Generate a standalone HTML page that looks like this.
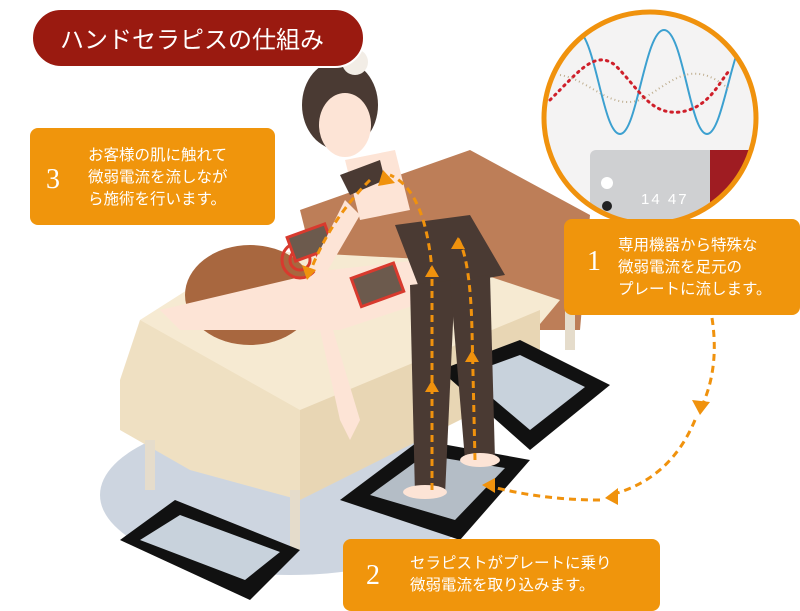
<!DOCTYPE html>
<html><head><meta charset="utf-8"><style>
body{margin:0;width:800px;height:611px;overflow:hidden;background:#fff;font-family:"Liberation Sans","Noto Sans CJK JP",sans-serif}
svg{display:block}
</style></head><body>
<svg width="800" height="611" viewBox="0 0 800 611" xmlns="http://www.w3.org/2000/svg" font-family="Liberation Sans, Noto Sans CJK JP, sans-serif">
<ellipse cx="290" cy="495" rx="190" ry="80" fill="#cdd5e0"/>
<path d="M300 210 L470 150 L590 215 L580 330 L330 330 Z" fill="#bd7e58"/>
<path d="M140 320 L250 250 L440 260 L560 300 L510 360 L300 450 L140 380 Z" fill="#f6ead2"/>
<path d="M120 380 L140 320 L300 410 L300 500 L190 470 L120 430 Z" fill="#efe0c2"/>
<path d="M300 410 L540 310 L540 380 L300 500 Z" fill="#e8d6b4"/>
<rect x="145" y="440" width="10" height="50" fill="#e5dccb"/>
<rect x="290" y="490" width="10" height="60" fill="#e5dccb"/>
<rect x="565" y="310" width="10" height="40" fill="#e5dccb"/>
<path d="M120 540 L175 500 L300 550 L250 600 Z" fill="#111"/>
<path d="M140 540 L180 515 L280 552 L245 580 Z" fill="#c8d2dc"/>
<path d="M340 500 L420 440 L530 460 L460 540 Z" fill="#111"/>
<path d="M370 495 L425 455 L505 468 L455 520 Z" fill="#b4bdc6"/>
<path d="M440 370 L520 340 L610 385 L530 450 Z" fill="#111"/>
<path d="M465 375 L520 355 L585 387 L530 430 Z" fill="#c8d2dc"/>
<ellipse cx="250" cy="295" rx="65" ry="50" fill="#a8673f"/>
<path d="M160 310 L330 270 L420 260 L430 300 L340 330 L180 330 Z" fill="#fde4d6"/>
<circle cx="300" cy="260" r="18" fill="none" stroke="#d83a2e" stroke-width="3"/>
<circle cx="300" cy="260" r="10" fill="none" stroke="#d83a2e" stroke-width="3"/>
<rect x="355" y="270" width="45" height="30" fill="#6c5a4d" stroke="#d83a2e" stroke-width="3" transform="rotate(-20 377 285)"/>
<rect x="290" y="230" width="40" height="25" fill="#6c5a4d" stroke="#d83a2e" stroke-width="3" transform="rotate(-20 310 242)"/>
<path d="M330 320 L360 420 L350 440 L340 420 L320 330 Z" fill="#fde4d6"/>
<ellipse cx="340" cy="105" rx="38" ry="45" fill="#4a3a33"/>
<ellipse cx="345" cy="125" rx="26" ry="32" fill="#fde4d6"/>
<circle cx="355" cy="62" r="13" fill="#f2ede6"/>
<path d="M345 160 L395 150 L410 210 L360 220 Z" fill="#fde4d6"/>
<path d="M340 175 L380 160 L385 180 L350 195 Z" fill="#4a3a33"/>
<path d="M345 200 L310 270 L325 275 L360 215 Z" fill="#fde4d6"/>
<path d="M395 225 L470 215 L505 275 L420 290 Z" fill="#4a3a33"/>
<path d="M410 285 L455 280 L445 495 L415 495 Z" fill="#4a3a33"/>
<path d="M450 280 L490 275 L495 460 L465 460 Z" fill="#4a3a33"/>
<ellipse cx="425" cy="492" rx="22" ry="7" fill="#fde4d6"/>
<ellipse cx="480" cy="460" rx="20" ry="7" fill="#fde4d6"/>
<g fill="none" stroke="#f0920d" stroke-width="3" stroke-dasharray="7 5">
<path d="M432 490 L432 270 Q425 190 390 175"/>
<path d="M475 460 L472 330 Q470 250 455 235"/>
<path d="M370 180 Q330 220 310 272"/>
<path d="M712 318 Q720 370 700 410"/>
<path d="M695 420 Q670 480 610 495"/>
<path d="M600 500 Q540 500 485 485"/>
</g>
<g fill="#f0920d">
<path d="M383 170 L395 183 L378 186 Z"/>
<path d="M307 280 L302 265 L316 270 Z"/>
<path d="M700 415 L692 400 L710 402 Z"/>
<path d="M605 498 L618 488 L618 505 Z"/>
<path d="M482 485 L495 478 L495 493 Z"/>
<path d="M432 380 L425 392 L439 392 Z"/>
<path d="M432 265 L425 277 L439 277 Z"/>
<path d="M472 350 L465 362 L479 362 Z"/>
<path d="M458 237 L451 249 L465 249 Z"/>
</g>
<clipPath id="c"><circle cx="650" cy="118" r="106"/></clipPath>
<g clip-path="url(#c)">
<rect x="540" y="10" width="220" height="220" fill="#f4f3f3"/>
<rect x="590" y="150" width="170" height="70" rx="6" fill="#cfd0d2"/>
<rect x="710" y="150" width="50" height="70" fill="#9f1c22"/>
<circle cx="607" cy="183" r="6" fill="#fff"/><circle cx="607" cy="206" r="5" fill="#222"/>
<text x="641" y="204" font-size="15" fill="#fff" letter-spacing="2">14 47</text>
<path d="M540 120 C552 70 560 20 578 30 C596 40 603 134 620 134 C637 134 645 30 664 30 C683 30 690 134 707 134 C724 134 733 30 752 30" fill="none" stroke="#3ca0d0" stroke-width="2"/>
<path d="M550 100 C580 70 595 50 615 65 C640 90 650 115 680 112 C710 108 720 80 730 70" fill="none" stroke="#cf1f2a" stroke-width="3" stroke-dasharray="1.5 5" stroke-linecap="round"/>
<path d="M560 75 C590 80 610 110 640 100 C670 85 690 55 730 90" fill="none" stroke="#bfae8f" stroke-width="2" stroke-dasharray="1 3"/>
</g>
<circle cx="650" cy="118" r="106" fill="none" stroke="#f0920d" stroke-width="5"/>
<rect x="32" y="9" width="332" height="58" rx="29" fill="#9a1a10" stroke="#fff" stroke-width="2"/>
<text x="60" y="48" font-size="24" fill="#fff">ハンドセラピスの仕組み</text>
<rect x="30" y="128" width="245" height="97" rx="8" fill="#f0950c"/>
<text x="46" y="188" font-size="28" fill="#fff" font-family="Liberation Serif, serif">3</text>
<text font-size="15.5" fill="#fff"><tspan x="88" y="160">お客様の肌に触れて</tspan><tspan x="88" y="182">微弱電流を流しなが</tspan><tspan x="88" y="204">ら施術を行います。</tspan></text>
<rect x="564" y="219" width="236" height="96" rx="8" fill="#f0950c"/>
<text x="587" y="270" font-size="28" fill="#fff" font-family="Liberation Serif, serif">1</text>
<text font-size="15.5" fill="#fff"><tspan x="618" y="250">専用機器から特殊な</tspan><tspan x="618" y="272">微弱電流を足元の</tspan><tspan x="618" y="294">プレートに流します。</tspan></text>
<rect x="343" y="539" width="317" height="72" rx="8" fill="#f0950c"/>
<text x="366" y="584" font-size="28" fill="#fff" font-family="Liberation Serif, serif">2</text>
<text font-size="15.5" fill="#fff"><tspan x="410" y="568">セラピストがプレートに乗り</tspan><tspan x="410" y="590">微弱電流を取り込みます。</tspan></text>
</svg>
</body></html>
